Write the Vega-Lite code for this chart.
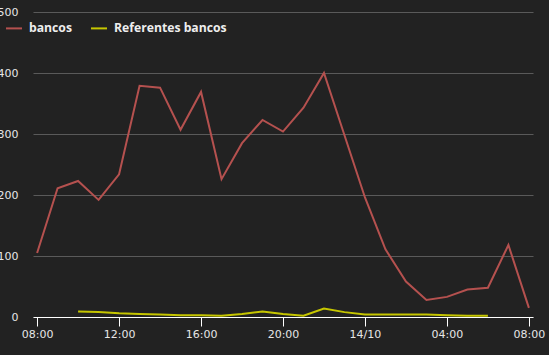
{
  "$schema": "https://vega.github.io/schema/vega-lite/v6.json",
  "width": 500,
  "height": 305,
  "autosize": {"type": "none"},
  "padding": {"left": 33, "top": 12, "right": 16, "bottom": 38},
  "background": "#222222",
  "config": {"view": {"stroke": null}, "font": "DejaVu Sans"},
  "data": {
    "values": [
      {"time": "2023-10-13T08:00:00", "series": "bancos", "value": 105},
      {"time": "2023-10-13T09:00:00", "series": "bancos", "value": 211},
      {"time": "2023-10-13T10:00:00", "series": "bancos", "value": 223},
      {"time": "2023-10-13T11:00:00", "series": "bancos", "value": 192},
      {"time": "2023-10-13T12:00:00", "series": "bancos", "value": 234},
      {"time": "2023-10-13T13:00:00", "series": "bancos", "value": 379},
      {"time": "2023-10-13T14:00:00", "series": "bancos", "value": 376},
      {"time": "2023-10-13T15:00:00", "series": "bancos", "value": 307},
      {"time": "2023-10-13T16:00:00", "series": "bancos", "value": 369},
      {"time": "2023-10-13T17:00:00", "series": "bancos", "value": 226},
      {"time": "2023-10-13T18:00:00", "series": "bancos", "value": 285},
      {"time": "2023-10-13T19:00:00", "series": "bancos", "value": 323},
      {"time": "2023-10-13T20:00:00", "series": "bancos", "value": 304},
      {"time": "2023-10-13T21:00:00", "series": "bancos", "value": 343},
      {"time": "2023-10-13T22:00:00", "series": "bancos", "value": 400},
      {"time": "2023-10-13T23:00:00", "series": "bancos", "value": 298},
      {"time": "2023-10-14T00:00:00", "series": "bancos", "value": 196},
      {"time": "2023-10-14T01:00:00", "series": "bancos", "value": 111},
      {"time": "2023-10-14T02:00:00", "series": "bancos", "value": 58},
      {"time": "2023-10-14T03:00:00", "series": "bancos", "value": 28},
      {"time": "2023-10-14T04:00:00", "series": "bancos", "value": 33},
      {"time": "2023-10-14T05:00:00", "series": "bancos", "value": 45},
      {"time": "2023-10-14T06:00:00", "series": "bancos", "value": 48},
      {"time": "2023-10-14T07:00:00", "series": "bancos", "value": 118},
      {"time": "2023-10-14T08:00:00", "series": "bancos", "value": 15},
      {"time": "2023-10-13T10:00:00", "series": "Referentes bancos", "value": 9},
      {"time": "2023-10-13T11:00:00", "series": "Referentes bancos", "value": 8},
      {"time": "2023-10-13T12:00:00", "series": "Referentes bancos", "value": 6},
      {"time": "2023-10-13T13:00:00", "series": "Referentes bancos", "value": 5},
      {"time": "2023-10-13T14:00:00", "series": "Referentes bancos", "value": 4},
      {"time": "2023-10-13T15:00:00", "series": "Referentes bancos", "value": 3},
      {"time": "2023-10-13T16:00:00", "series": "Referentes bancos", "value": 3},
      {"time": "2023-10-13T17:00:00", "series": "Referentes bancos", "value": 2},
      {"time": "2023-10-13T18:00:00", "series": "Referentes bancos", "value": 5},
      {"time": "2023-10-13T19:00:00", "series": "Referentes bancos", "value": 9},
      {"time": "2023-10-13T20:00:00", "series": "Referentes bancos", "value": 5},
      {"time": "2023-10-13T21:00:00", "series": "Referentes bancos", "value": 2},
      {"time": "2023-10-13T22:00:00", "series": "Referentes bancos", "value": 14},
      {"time": "2023-10-13T23:00:00", "series": "Referentes bancos", "value": 8},
      {"time": "2023-10-14T00:00:00", "series": "Referentes bancos", "value": 4},
      {"time": "2023-10-14T01:00:00", "series": "Referentes bancos", "value": 4},
      {"time": "2023-10-14T02:00:00", "series": "Referentes bancos", "value": 4},
      {"time": "2023-10-14T03:00:00", "series": "Referentes bancos", "value": 4},
      {"time": "2023-10-14T04:00:00", "series": "Referentes bancos", "value": 3},
      {"time": "2023-10-14T05:00:00", "series": "Referentes bancos", "value": 2},
      {"time": "2023-10-14T06:00:00", "series": "Referentes bancos", "value": 2}
    ]
  },
  "mark": {"type": "line", "strokeWidth": 2},
  "encoding": {
    "x": {
      "field": "time",
      "type": "temporal",
      "scale": {
        "domain": ["2023-10-13T07:48:00", "2023-10-14T08:12:00"]
      },
      "axis": {
        "title": null,
        "grid": false,
        "values": [
          "2023-10-13T08:00:00",
          "2023-10-13T12:00:00",
          "2023-10-13T16:00:00",
          "2023-10-13T20:00:00",
          "2023-10-14T00:00:00",
          "2023-10-14T04:00:00",
          "2023-10-14T08:00:00"
        ],
        "format": "%H:%M",
        "labelExpr": "datum.label == '00:00' ? '14/10' : datum.label",
        "domainColor": "#ffffff",
        "domainWidth": 1,
        "tickColor": "#ffffff",
        "tickSize": 9,
        "labelPadding": 2,
        "labelColor": "#e6e6e6",
        "labelFontSize": 11,
        "labelFont": "DejaVu Sans",
        "labelFlush": false
      }
    },
    "y": {
      "field": "value",
      "type": "quantitative",
      "scale": {"domain": [0, 500], "nice": false},
      "axis": {
        "title": null,
        "values": [0, 100, 200, 300, 400, 500],
        "domain": false,
        "ticks": false,
        "gridColor": "#5a5a5a",
        "gridWidth": 1,
        "labelPadding": 15,
        "labelColor": "#e6e6e6",
        "labelFontSize": 11,
        "labelFont": "DejaVu Sans"
      }
    },
    "color": {
      "field": "series",
      "type": "nominal",
      "scale": {"domain": ["bancos", "Referentes bancos"], "range": ["#b5514f", "#c6c600"]},
      "legend": {
        "title": null,
        "orient": "none",
        "direction": "horizontal",
        "legendX": -28,
        "legendY": 7,
        "padding": 0,
        "symbolType": "stroke",
        "symbolSize": 256,
        "symbolStrokeWidth": 2,
        "labelOffset": 6,
        "columnPadding": 15,
        "labelFont": "Open Sans",
        "labelFontSize": 12.2,
        "labelFontWeight": "bold",
        "labelColor": "#eeeeee"
      }
    }
  }
}
